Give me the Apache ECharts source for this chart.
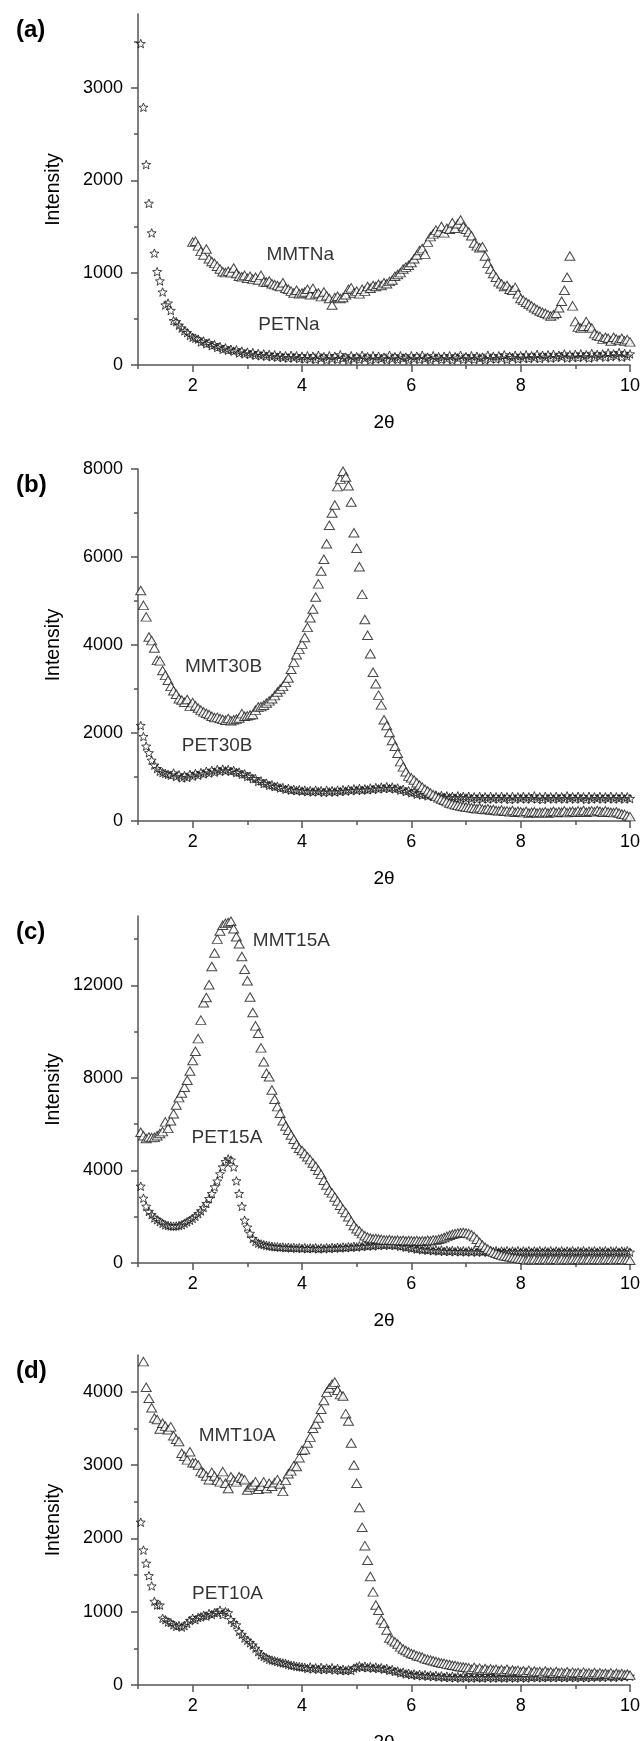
<!DOCTYPE html>
<html>
<head>
<meta charset="utf-8">
<script src="https://cdn.jsdelivr.net/npm/echarts@6/dist/echarts.min.js"></script>
<style>
html,body{margin:0;padding:0;background:#fff;}
#chart{width:643px;height:1741px;}
</style>
</head>
<body>
<div id="chart"></div>
<script>
// 2θ scan step (deg) shared by all scans
const SCAN_STEP = 0.05;

// ---------- panel (a) ----------
const petNaStart = 1.05;
const petNa = [
3480,2790,2170,1750,1430,1210,1010,910,790,650,
670,590,480,470,430,400,370,350,320,300,
290,280,250,260,230,240,210,220,190,200,
170,185,160,170,150,165,130,150,120,140,
115,135,105,125,100,120,95,115,90,110,
85,105,80,100,75,105,80,100,70,95,
65,100,70,95,60,105,75,90,55,100,
70,95,60,110,75,85,55,100,70,90,
60,105,75,90,55,100,65,95,70,85,
55,105,70,90,60,100,75,85,55,100,
70,95,60,105,70,85,55,100,75,90,
60,95,70,100,55,90,75,105,60,90,
70,100,60,95,75,85,55,105,70,95,
65,100,75,110,60,95,80,105,65,100,
75,110,70,100,80,115,70,105,85,110,
75,115,80,105,90,120,75,110,85,115,
80,120,90,110,75,125,85,115,95,120,
85,130,90,120,100,135,85,125,95,120
];
const mmtNaStart = 2.00;
const mmtNa = [
1330,1340,1290,1230,1190,1255,1150,1120,1100,1070,
1040,1010,1000,1015,1000,1050,990,960,955,970,
940,960,930,950,920,970,900,895,910,880,
870,860,850,890,830,820,800,780,810,770,
780,790,820,760,830,770,780,740,790,750,
720,650,730,745,720,730,760,820,835,780,
800,770,820,800,850,830,860,850,875,860,
890,880,905,920,960,980,1000,1040,1060,1080,
1110,1150,1190,1240,1260,1200,1330,1390,1420,1460,
1440,1500,1430,1480,1470,1540,1480,1530,1570,1500,
1470,1440,1400,1320,1290,1270,1280,1180,1100,1040,
990,950,900,880,850,860,820,810,840,770,
720,700,680,660,640,620,600,585,570,560,
545,530,545,560,620,690,810,950,1180,640,
470,410,400,420,470,420,400,340,320,310,
280,300,290,260,300,280,270,290,260,275,
250
];

// ---------- panel (b) ----------
const pet30BStart = 1.05;
const pet30B = [
2170,1920,1700,1550,1380,1270,1190,1130,1100,1080,
1060,1040,1090,1010,1050,980,1030,990,1060,1020,
1080,1040,1100,1070,1130,1090,1150,1110,1170,1130,
1180,1140,1170,1130,1150,1100,1110,1060,1070,1010,
1020,960,960,900,910,850,860,810,820,780,
790,750,760,720,740,700,720,690,710,680,
700,670,690,660,700,670,690,650,700,660,
690,660,700,670,710,680,720,690,730,700,
740,700,730,710,750,720,760,730,770,740,
780,740,770,730,750,700,720,670,690,640,
660,610,630,590,610,570,600,560,590,550,
580,540,570,530,560,520,570,530,560,520,
560,510,550,500,560,510,550,500,560,510,
550,500,560,510,550,490,560,500,550,510,
560,500,550,510,570,500,550,490,560,510,
550,500,560,510,550,500,570,510,550,500,
560,510,550,490,560,500,550,510,560,500,
550,510,560,500,550,510,560,500,550,510
];
const mmt30BStart = 1.05;
const mmt30B = [
5240,4900,4640,4180,4100,3930,3650,3640,3420,3310,
3200,3060,2960,2880,2780,2750,2700,2760,2610,2690,
2620,2570,2520,2480,2450,2420,2380,2350,2360,2330,
2310,2290,2330,2280,2300,2320,2340,2440,2380,2390,
2410,2420,2520,2590,2600,2630,2680,2730,2780,2850,
2930,3000,3060,3150,3250,3450,3610,3780,3900,4020,
4170,4400,4620,4820,5090,5390,5680,5950,6300,6720,
7000,7180,7600,7770,7950,7820,7620,7250,6550,6200,
5780,5150,4580,4220,3800,3380,3120,2860,2640,2300,
2170,2010,1830,1700,1540,1350,1230,1120,1020,980,
930,870,820,770,720,680,640,600,560,530,
500,470,440,410,390,370,355,340,330,320,
310,300,290,280,300,270,260,280,250,260,
240,230,250,220,230,210,240,200,220,210,
190,220,180,200,210,180,200,190,210,180,
200,220,190,210,200,230,190,210,220,200,
230,210,240,200,220,230,210,240,220,200,
230,210,200,190,210,180,160,150,120,100
];

// ---------- panel (c) ----------
const pet15AStart = 1.05;
const pet15A = [
3320,2800,2450,2230,2090,1950,1870,1790,1720,1650,
1620,1600,1590,1600,1620,1650,1720,1780,1850,1930,
2020,2130,2250,2400,2570,2780,3000,3290,3540,3850,
4150,4380,4500,4450,4150,3550,3000,2450,1850,1550,
1280,1060,930,860,820,790,760,740,720,700,
700,680,690,660,680,650,670,640,660,630,
660,620,650,630,660,610,650,620,660,630,
670,640,680,650,690,660,700,680,720,690,
740,710,760,730,780,740,790,760,800,770,
810,770,800,760,780,720,740,680,700,640,
660,600,620,570,600,550,580,530,570,520,
560,500,550,500,540,490,540,490,530,480,
530,480,530,470,530,480,520,470,530,480,
530,470,520,480,530,470,520,480,530,470,
520,480,530,470,520,480,530,470,520,480,
530,470,520,480,530,470,520,480,530,470,
520,480,530,470,520,480,530,470,520,480,
530,470,520,480,530,470,520,480,530,470
];
const mmt15AStart = 1.05;
const mmt15A = [
5650,5500,5380,5450,5420,5430,5500,5600,5680,6100,
5820,6150,6450,6830,7150,7350,7600,7900,8300,8750,
9150,9700,10500,11250,11480,12030,12820,13400,14000,14350,
14600,14680,14720,14770,14450,14100,13800,13250,12700,12200,
11500,10830,10250,9930,9300,8700,8200,8050,7480,7080,
6760,6470,6150,5920,5740,5530,5350,5130,4960,4860,
4730,4590,4470,4320,4180,4010,3830,3580,3370,3150,
3030,2850,2680,2500,2330,2180,2000,1800,1620,1480,
1380,1270,1180,1120,1080,1050,1060,1040,1020,1000,
990,1010,980,970,990,960,980,950,970,960,
950,970,940,960,950,980,960,1000,990,1030,
1060,1100,1150,1200,1240,1270,1300,1310,1320,1300,
1270,1220,1140,1030,900,780,680,600,530,470,
420,380,340,310,290,270,240,220,200,180,
160,130,170,140,180,130,160,140,170,130,
170,140,160,130,180,140,150,130,170,140,
160,130,170,140,180,130,160,140,150,130,
170,140,160,130,170,140,160,130,150,120
];

// ---------- panel (d) ----------
const pet10AStart = 1.05;
const pet10A = [
2220,1840,1660,1490,1350,1140,1090,1090,910,890,
860,850,820,800,810,790,810,840,880,910,
890,920,930,950,940,975,960,985,990,1020,
960,1000,985,890,850,820,730,690,640,610,
575,545,500,455,410,390,370,350,340,330,
320,310,300,295,280,270,265,255,250,245,
240,225,245,220,235,215,240,210,230,215,
235,205,225,200,215,195,210,200,230,245,
260,240,255,235,250,230,245,225,235,215,
225,200,210,185,190,165,175,150,160,140,
150,130,145,125,140,120,135,115,130,110,
125,105,120,100,120,100,115,95,120,100,
115,95,120,100,110,95,120,100,115,95,
120,100,110,95,120,100,115,95,120,100,
115,95,120,105,115,100,125,100,115,105,
120,100,125,105,115,100,125,105,120,100,
125,105,120,100,130,105,120,110,125,105,
130,110,125,105,135,110,130,115,135,120
];
const mmt10AStart = 1.10;
const mmt10A = [
4410,4060,3910,3780,3640,3620,3490,3570,3530,3480,
3520,3400,3350,3320,3160,3120,3070,3180,3030,3030,
3000,2910,2890,2850,2800,2900,2850,2790,2770,2910,
2750,2680,2840,2790,2770,2840,2820,2800,2660,2700,
2730,2770,2670,2710,2770,2680,2750,2710,2760,2800,
2740,2640,2790,2880,2920,2990,2980,3100,3200,3210,
3300,3380,3500,3560,3640,3760,3880,3990,4050,4100,
4130,4020,3960,3940,3700,3600,3300,3000,2750,2420,
2150,1900,1700,1480,1270,1090,1020,890,840,750,
640,615,590,560,520,490,470,450,430,420,
400,390,380,360,350,340,330,320,310,300,
295,285,280,270,265,255,250,245,240,
235,215,240,210,230,205,225,200,220,205,
215,195,210,190,215,185,205,190,200,180,
195,175,200,170,190,175,185,165,190,170,
180,160,185,165,175,160,180,155,175,160,
170,150,175,155,165,150,170,145,165,150,
160,145,165,140,160,145,155,140,150,135
];

// ---------- axis ticks ----------
const xMajorTicks = [2,4,6,8,10];
const xMinorTicks = [1,3,5,7,9];
const yMax = [3800, 8000, 15000, 4500];
const yMajorTicks = [
  [0,1000,2000,3000],
  [0,2000,4000,6000,8000],
  [0,4000,8000,12000],
  [0,1000,2000,3000,4000]
];
const yMinorTicks = [
  [500,1500,2500,3500],
  [1000,3000,5000,7000],
  [2000,6000,10000,14000],
  [500,1500,2500,3500]
];
const panelLetters = ['(a)','(b)','(c)','(d)'];
const seriesNames = [['PETNa','MMTNa'],['PET30B','MMT30B'],['PET15A','MMT15A'],['PET10A','MMT10A']];
// label anchors [2θ, intensity] (left edge, vertical centre)
const labelAnchors = [
  [[3.20,433],[3.35,1190]],
  [[1.80,1710],[1.86,3500]],
  [[1.98,5430],[3.10,13940]],
  [[1.99,1250],[2.11,3400]]
];

const petData = [[petNaStart,petNa],[pet30BStart,pet30B],[pet15AStart,pet15A],[pet10AStart,pet10A]];
const mmtData = [[mmtNaStart,mmtNa],[mmt30BStart,mmt30B],[mmt15AStart,mmt15A],[mmt10AStart,mmt10A]];

function toPoints(start, vals){
  return vals.map((v,i)=>[+(start + i*SCAN_STEP).toFixed(2), v]);
}

// layout
const gridLayout = [
  {top:14, height:351},
  {top:469, height:352},
  {top:916, height:347},
  {top:1355, height:330}
];
const FONT = '"Liberation Sans", Arial, sans-serif';
const AXIS_COLOR = '#555';
const TEXT_COLOR = '#000';
const STAR = 'path://M12,1 L14.9,8.6 L23,9 L16.7,14.1 L18.9,22 L12,17.6 L5.1,22 L7.3,14.1 L1,9 L9.1,8.6 Z';

const grids=[], xAxes=[], yAxes=[], series=[], titles=[];
for(let p=0;p<4;p++){
  grids.push({left:138, width:492, top:gridLayout[p].top, height:gridLayout[p].height, outerBoundsMode:'none', containLabel:false});
  xAxes.push({
    gridIndex:p, type:'value', min:1, max:10, position:'bottom',
    axisLine:{show:true, onZero:false, lineStyle:{color:AXIS_COLOR, width:1.5}},
    axisTick:{show:true, customValues:xMajorTicks, length:7, lineStyle:{color:AXIS_COLOR, width:1.5}},
    axisLabel:{show:true, customValues:xMajorTicks, margin:12, fontSize:18, color:TEXT_COLOR, fontFamily:FONT,
      formatter:(v)=>String(v)},
    splitLine:{show:false},
    name:'2θ', nameLocation:'middle', nameGap:48, nameMoveOverlap:false,
    nameTextStyle:{fontSize:19, color:TEXT_COLOR, fontFamily:FONT}
  });
  xAxes.push({
    gridIndex:p, type:'value', min:1, max:10, position:'bottom', offset:0,
    axisLine:{show:false},
    axisTick:{show:true, customValues:xMinorTicks, length:4, lineStyle:{color:AXIS_COLOR, width:1.5}},
    axisLabel:{show:false}, splitLine:{show:false}
  });
  yAxes.push({
    gridIndex:p, type:'value', min:0, max:yMax[p], position:'left',
    axisLine:{show:true, onZero:false, lineStyle:{color:AXIS_COLOR, width:1.5}},
    axisTick:{show:true, customValues:yMajorTicks[p], length:7, lineStyle:{color:AXIS_COLOR, width:1.5}},
    axisLabel:{show:true, customValues:yMajorTicks[p], margin:15, fontSize:18, color:TEXT_COLOR, fontFamily:FONT,
      formatter:(v)=>String(v)},
    splitLine:{show:false},
    name:'Intensity', nameLocation:'middle', nameGap:74, nameMoveOverlap:false,
    nameTextStyle:{fontSize:19.5, color:TEXT_COLOR, fontFamily:FONT}
  });
  yAxes.push({
    gridIndex:p, type:'value', min:0, max:yMax[p], position:'left', offset:0,
    axisLine:{show:false},
    axisTick:{show:true, customValues:yMinorTicks[p], length:4, lineStyle:{color:AXIS_COLOR, width:1.5}},
    axisLabel:{show:false}, splitLine:{show:false}
  });
  const xi = 2*p, yi = 2*p;
  series.push({
    type:'scatter', name:seriesNames[p][0], xAxisIndex:xi, yAxisIndex:yi,
    data:toPoints(petData[p][0], petData[p][1]),
    symbol:STAR, symbolSize:9, symbolKeepAspect:true,
    itemStyle:{color:'rgba(255,255,255,0)', borderColor:'#1a1a1a', borderWidth:1},
    silent:true, z:3
  });
  series.push({
    type:'scatter', name:seriesNames[p][1], xAxisIndex:xi, yAxisIndex:yi,
    data:toPoints(mmtData[p][0], mmtData[p][1]),
    symbol:'triangle', symbolSize:[10,8.5],
    itemStyle:{color:'#fff', borderColor:'#1a1a1a', borderWidth:1},
    silent:true, z:4
  });
  series.push({
    type:'scatter', xAxisIndex:xi, yAxisIndex:yi, silent:true, z:5,
    symbolSize:0,
    data:labelAnchors[p].map((a,k)=>({value:a, name:seriesNames[p][k]})),
    label:{show:true, position:'right', distance:0, formatter:'{b}', fontSize:19, color:TEXT_COLOR, fontFamily:FONT}
  });
  titles.push({text:panelLetters[p], left:11, top:gridLayout[p].top - 1,
    textStyle:{fontSize:24, fontWeight:'bold', color:'#000', fontFamily:FONT}});
}

const chart = echarts.init(document.getElementById('chart'), null, {renderer:'canvas'});
chart.setOption({
  animation:false,
  backgroundColor:'#fff',
  title:titles,
  grid:grids, xAxis:xAxes, yAxis:yAxes, series:series,
  tooltip:{show:false}
});
</script>
</body>
</html>
